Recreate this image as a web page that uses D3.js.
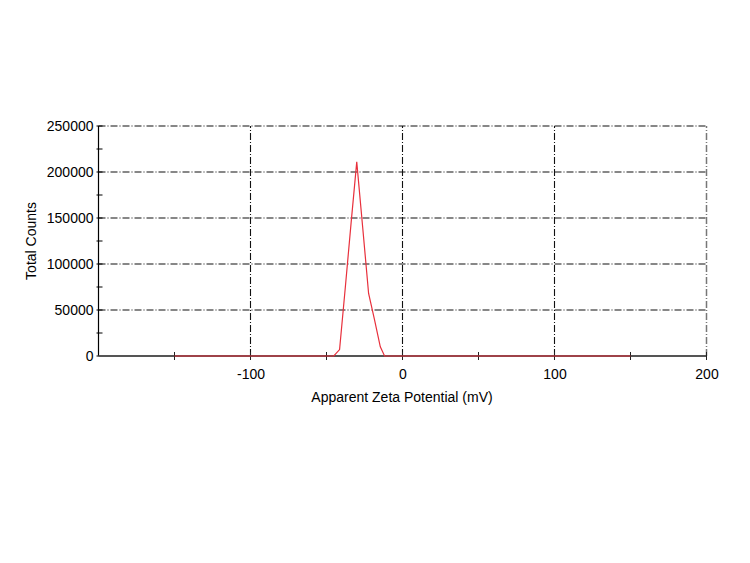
<!DOCTYPE html>
<html><head><meta charset="utf-8">
<script src="https://cdn.jsdelivr.net/npm/d3@7"></script>
<style>body{margin:0;background:#fff}svg{display:block}text{font-family:"Liberation Sans",Arial,sans-serif;fill:#000}</style>
</head><body>
<svg id="c" width="750" height="563"></svg>
<script>
const zeta = [-150, -45.2, -41.4, -37.6, -33.8, -30.1, -26.2, -22.3, -18.5, -14.6, -11.8, 150];
const counts = [0, 0, 7000, 75000, 145000, 211000, 140000, 68000, 40000, 10000, 0, 0];
const xMajor = [-100, 0, 100, 200];
const xMinor = [-150, -50, 50, 150];
const yMajor = [0, 50000, 100000, 150000, 200000, 250000];
const yMinor = [25000, 75000, 125000, 175000, 225000];
const xTitle = "Apparent Zeta Potential (mV)";
const yTitle = "Total Counts";

const svg = d3.select("#c");
const x = d3.scaleLinear().domain([-200, 200]).range([98.5, 706.5]);
const y = d3.scaleLinear().domain([0, 250000]).range([356, 126]);
const dash = "7,2,1,2";
const fmt = d => String(d);

// horizontal grid
svg.append("g").selectAll("line").data(yMajor.filter(d => d > 0)).join("line")
  .attr("x1", x(-200)).attr("x2", x(200))
  .attr("y1", d => y(d)).attr("y2", d => y(d))
  .attr("stroke", "#111").attr("stroke-width", 1.1).attr("stroke-dasharray", dash);
// vertical grid
svg.append("g").selectAll("line").data(xMajor).join("line")
  .attr("x1", d => x(d)).attr("x2", d => x(d))
  .attr("y1", y(0)).attr("y2", y(250000))
  .attr("stroke", d => d === 200 ? "#777" : "#111").attr("stroke-width", d => d === 200 ? 1.5 : 1.1)
  .attr("stroke-dasharray", dash);

// y axis
const yAxis = d3.axisLeft(y).tickValues(yMajor).tickSize(0).tickPadding(5).tickFormat(fmt);
const gy = svg.append("g").attr("transform", `translate(${x(-200)},0)`).call(yAxis);
gy.select(".domain").remove();
gy.selectAll("text").style("font-size", "14px").attr("dy", "0.35em").attr("fill", "#000");
svg.append("line").attr("x1", x(-200)).attr("x2", x(-200)).attr("y1", y(0)).attr("y2", y(250000))
  .attr("stroke", "#000").attr("stroke-width", 1.2);
svg.append("g").selectAll("line").data(yMinor.concat(yMajor)).join("line")
  .attr("x1", x(-200) - 2).attr("x2", x(-200) + 4)
  .attr("y1", d => y(d)).attr("y2", d => y(d)).attr("stroke", "#000").attr("stroke-width", 1);

// x axis
const xAxis = d3.axisBottom(x).tickValues(xMajor).tickSize(0).tickPadding(13).tickFormat(fmt);
const gx = svg.append("g").attr("transform", `translate(0,${y(0)})`).call(xAxis);
gx.select(".domain").remove();
gx.selectAll("text").style("font-size", "14px").attr("fill", "#000");
svg.append("line").attr("x1", x(-200)).attr("x2", x(200)).attr("y1", y(0)).attr("y2", y(0))
  .attr("stroke", "#555").attr("stroke-width", 2);
svg.append("g").selectAll("line").data(xMinor.concat(xMajor)).join("line")
  .attr("x1", d => x(d)).attr("x2", d => x(d))
  .attr("y1", y(0) - 4).attr("y2", y(0) + 4).attr("stroke", "#222").attr("stroke-width", 1);

// data line
const line = d3.line().x((d, i) => x(zeta[i])).y(d => y(d));
svg.append("path").datum(counts).attr("d", line)
  .attr("fill", "none").attr("stroke", "#e8303c").attr("stroke-width", 1.2);

// titles
svg.append("text").attr("x", 402).attr("y", 402).attr("text-anchor", "middle")
  .style("font-size", "14px").text(xTitle);
svg.append("text").attr("transform", "translate(36,241) rotate(-90)").attr("text-anchor", "middle")
  .style("font-size", "14px").text(yTitle);
</script>
</body></html>
